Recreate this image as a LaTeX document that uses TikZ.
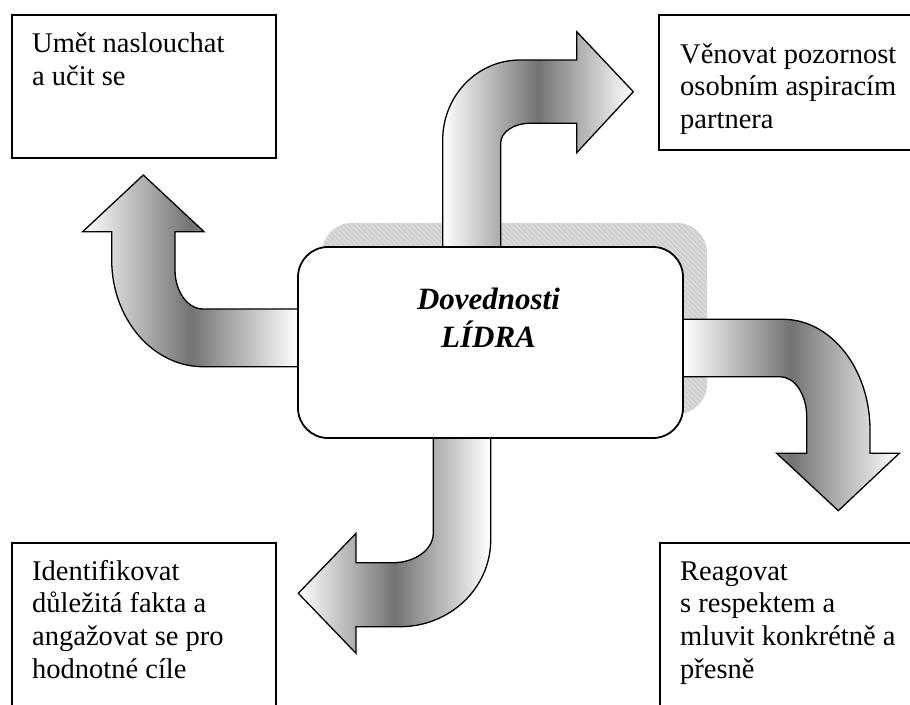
\documentclass[tikz,border=0pt]{standalone}
\usepackage{fontspec}
\setmainfont{Liberation Serif}
\usetikzlibrary{patterns}

% faint diagonal hatching used on the drop shadow
\pgfdeclarepatternformonly{shadowlines}{\pgfqpoint{-1pt}{-1pt}}{\pgfqpoint{6pt}{6pt}}{\pgfqpoint{5pt}{5pt}}{%
  \pgfsetlinewidth{0.7pt}%
  \pgfpathmoveto{\pgfqpoint{-0.1pt}{5.1pt}}%
  \pgfpathlineto{\pgfqpoint{5.1pt}{-0.1pt}}%
  \pgfusepath{stroke}}

\tikzset{
  bentarrow/.style={draw=black, line width=1.3pt, line join=miter,
    left color=white, right color=white, middle color=black!55},
  textbox/.style={draw=black, line width=1.6pt, rectangle, anchor=north west,
    inner sep=0pt, fill=white},
  % anchored at the baseline of the last line
  boxtext/.style={anchor=base west, align=left, inner sep=0pt,
    font=\fontsize{28.5}{32.7}\selectfont},
  centerbox/.style={draw=black, line width=1.8pt, fill=white, rounded corners=30pt},
  shadowbox/.style={fill=black!19, draw=none, rounded corners=30pt},
}

\begin{document}
\begin{tikzpicture}[x=1pt, y=-1pt]
  \useasboundingbox (0,0) rectangle (910,704);
  \fill[white] (0,0) rectangle (910,704);

  % drop shadow of the central box
  \fill[shadowbox] (322,223) rectangle (707,414);
  \fill[pattern=shadowlines, pattern color=black!10, rounded corners=30pt] (322,223) rectangle (707,414);

  % bent arrows leaving the central box
  % left, turning up
  \path[bentarrow] (298,309) -- (203,309)
    .. controls (187.6,309) and (175,291.5) .. (175,270)
    -- (175,231.7) -- (204,231.7) -- (143.3,175) -- (82.7,231.7) -- (111.7,231.7)
    -- (111.7,260) .. controls (111.7,319) and (153,366.7) .. (203,366.7)
    -- (298,366.7) -- cycle;
  % top, turning right
  \path[bentarrow] (442.7,247) -- (442.7,140)
    .. controls (442.7,96) and (477,60) .. (520,60)
    -- (576.7,60) -- (576.7,31.7) -- (633.3,91.7) -- (576.7,152.7) -- (576.7,123.3)
    -- (530,123.3) .. controls (513.8,123.3) and (500.7,132.1) .. (500.7,143)
    -- (500.7,247) -- cycle;
  % right, turning down
  \path[bentarrow] (683,319.3) -- (783,319.3)
    .. controls (831,319.3) and (870,368.9) .. (870,430)
    -- (870,453.3) -- (899.3,453.3) -- (838.3,510.7) -- (776.7,453.3) -- (806.7,453.3)
    -- (806.7,416.7) .. controls (806.7,394.6) and (794.7,376.7) .. (780,376.7)
    -- (683,376.7) -- cycle;
  % bottom, turning left
  \path[bentarrow] (433.3,438) -- (433.3,533)
    .. controls (433.3,549.4) and (415.2,562.7) .. (393,562.7)
    -- (356,562.7) -- (356,533.3) -- (298.3,593.3) -- (356,653.3) -- (356,626.7)
    -- (400,626.7) .. controls (450,626.7) and (490.7,587.9) .. (490.7,540)
    -- (490.7,438) -- cycle;

  % central box
  \draw[centerbox] (298,247) rectangle (683,438);
  \node[align=center, anchor=base, inner sep=0pt,
        font=\fontsize{31}{38.4}\selectfont\bfseries\itshape] (lead) at (488.5,347.7)
        {Dovednosti\\LÍDRA};

  % corner boxes
  \node[textbox, minimum width=264pt, minimum height=143pt] (boxA) at (11,14) {};
  \node[boxtext] (textA) at (32,85) {Umět naslouchat\\a učit se};

  \node[textbox, minimum width=262pt, minimum height=135pt] (boxB) at (658,14) {};
  \node[boxtext] (textB) at (680,128.4) {Věnovat pozornost\\osobním aspiracím\\partnera};

  \node[textbox, minimum width=264pt, minimum height=172pt] (boxC) at (11,542) {};
  \node[boxtext] (textC) at (32,678.1) {Identifikovat\\důležitá fakta a\\angažovat se pro\\hodnotné cíle};

  \node[textbox, minimum width=262pt, minimum height=172pt] (boxD) at (659,542) {};
  \node[boxtext] (textD) at (680,678.1) {Reagovat\\s respektem a\\mluvit konkrétně a\\přesně};
\end{tikzpicture}
\end{document}
